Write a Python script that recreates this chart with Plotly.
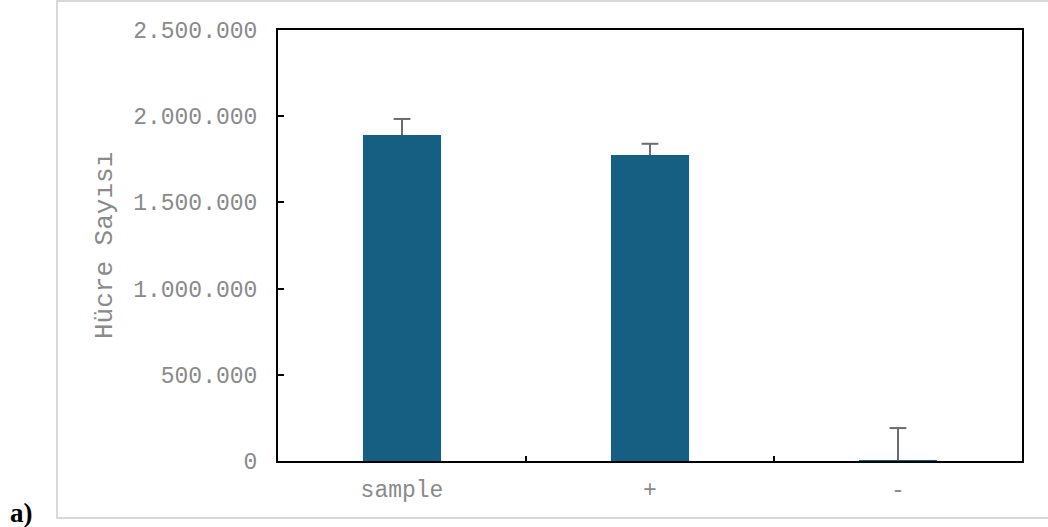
import plotly.graph_objects as go

categories = ["sample", "+", "-"]
values = [1891000, 1775000, 5000]
errors = [93000, 65000, 186000]
y_ticks = [0, 500000, 1000000, 1500000, 2000000, 2500000]

W, H = 1048, 527
L, R, T, B = 278, 26, 30, 66
pw, ph = W - L - R, H - T - B

def px(x):
    return (x - L) / pw

def py(y):
    return (H - B - y) / ph

err_color = "#6b6b6b"

fig = go.Figure()
fig.add_trace(go.Bar(
    x=categories, y=values,
    marker=dict(color="#175F82", line=dict(width=0)),
    error_y=dict(type="data", array=errors, symmetric=False, arrayminus=[0, 0, 0],
                 color=err_color, thickness=2, width=0),
    width=0.315,
))
# caps at the top of each error bar
fig.add_trace(go.Scatter(
    x=categories, y=[v + e for v, e in zip(values, errors)],
    mode="markers",
    marker=dict(symbol="line-ew", size=12, line=dict(color=err_color, width=2)),
    hoverinfo="skip",
))

font = dict(family="Liberation Mono, Courier New, monospace", size=23, color="#8a8a8a")
title_font = dict(family="Liberation Mono, Courier New, monospace", size=26, color="#8a8a8a")

fig.update_layout(
    width=W, height=H,
    margin=dict(l=L, r=R, t=T, b=B),
    paper_bgcolor="white", plot_bgcolor="white",
    separators=",.",
    showlegend=False,
    font=font,
    xaxis=dict(
        showline=True, linecolor="black", linewidth=2, mirror=True,
        ticks="inside", tickson="boundaries", ticklen=5, tickcolor="black", tickwidth=2,
        showgrid=False, tickfont=font, ticklabelstandoff=6,
    ),
    yaxis=dict(
        range=[0, 2500000], tickvals=y_ticks, tickformat=",d",
        showline=True, linecolor="black", linewidth=2, mirror=True,
        ticks="inside", ticklen=6, tickcolor="black", tickwidth=2,
        showgrid=False, zeroline=False, tickfont=font, ticklabelstandoff=14,
    ),
    annotations=[
        dict(text="Hücre Sayısı", xref="paper", yref="paper", x=px(105), y=py(246),
             textangle=-90, showarrow=False, font=title_font, xanchor="center", yanchor="middle"),
        dict(text="<b>a)</b>", xref="paper", yref="paper", x=px(21), y=py(513),
             showarrow=False, font=dict(family="Liberation Serif, Times New Roman, serif", size=27, color="black"),
             xanchor="center", yanchor="middle"),
    ],
    shapes=[
        dict(type="rect", xref="paper", yref="paper", x0=px(57), x1=px(1055), y0=py(518), y1=py(1),
             line=dict(color="#d9d9d9", width=2), layer="below"),
    ],
)

fig.write_html("out.html", config={"displayModeBar": False},
               post_script="document.body.style.margin='0';document.body.style.overflow='hidden';")
